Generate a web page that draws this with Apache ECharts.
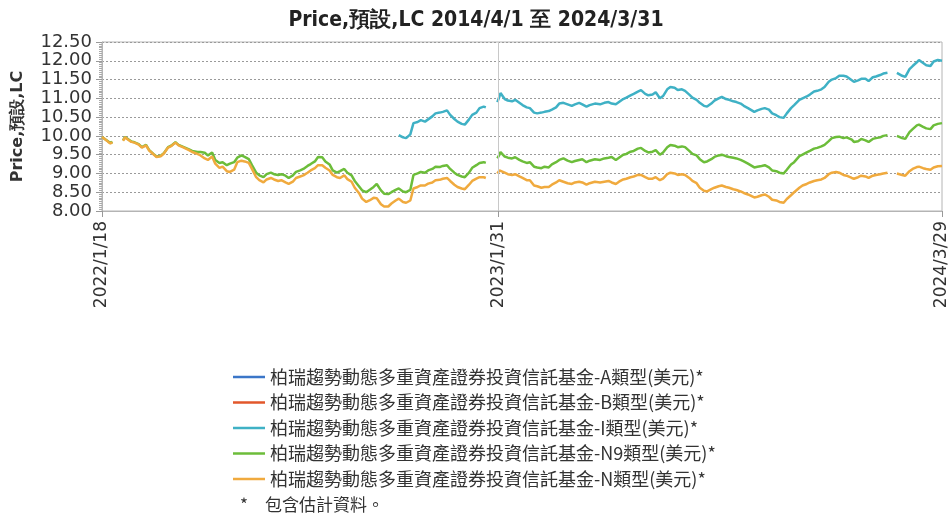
<!DOCTYPE html>
<html><head><meta charset="utf-8">
<script src="https://cdn.jsdelivr.net/npm/echarts@6/dist/echarts.min.js"></script>
<style>html,body{margin:0;padding:0;background:#fff}#c{width:952px;height:517px}</style>
</head><body><div id="c"></div>
<script>
const titleText = 'Price,預設,LC 2014/4/1 至 2024/3/31';
const yAxisName = 'Price,預設,LC';
const seriesNames = [
  '柏瑞趨勢動態多重資產證券投資信託基金-A類型(美元)*',
  '柏瑞趨勢動態多重資產證券投資信託基金-B類型(美元)*',
  '柏瑞趨勢動態多重資產證券投資信託基金-I類型(美元)*',
  '柏瑞趨勢動態多重資產證券投資信託基金-N9類型(美元)*',
  '柏瑞趨勢動態多重資產證券投資信託基金-N類型(美元)*'
];
const footnoteMark = '*';
const footnoteText = '包含估計資料。';
const xTickLabels = ['2022/1/18', '2023/1/31', '2024/3/29'];
const yTickMin = 8.0, yTickMax = 12.5, yTickStep = 0.5;

const dates = [
'2022-01-18','2022-01-20','2022-01-24','2022-01-26','2022-01-28','2022-02-01','2022-02-07','2022-02-09','2022-02-11','2022-02-15',
'2022-02-18','2022-02-22','2022-02-25','2022-03-01','2022-03-04','2022-03-08','2022-03-11','2022-03-15','2022-03-18','2022-03-22',
'2022-03-25','2022-03-29','2022-04-01','2022-04-06','2022-04-11','2022-04-14','2022-04-19','2022-04-22','2022-04-26','2022-04-29',
'2022-05-03','2022-05-06','2022-05-10','2022-05-13','2022-05-17','2022-05-20','2022-05-24','2022-05-27','2022-05-31','2022-06-03',
'2022-06-07','2022-06-10','2022-06-14','2022-06-17','2022-06-21','2022-06-24','2022-06-28','2022-07-01','2022-07-05','2022-07-08',
'2022-07-12','2022-07-15','2022-07-19','2022-07-22','2022-07-26','2022-07-29','2022-08-02','2022-08-05','2022-08-09','2022-08-12',
'2022-08-16','2022-08-19','2022-08-23','2022-08-26','2022-08-30','2022-09-02','2022-09-06','2022-09-09','2022-09-13','2022-09-16',
'2022-09-20','2022-09-23','2022-09-27','2022-09-30','2022-10-04','2022-10-07','2022-10-11','2022-10-14','2022-10-18','2022-10-21',
'2022-10-25','2022-10-28','2022-11-01','2022-11-04','2022-11-08','2022-11-11','2022-11-15','2022-11-18','2022-11-22','2022-11-25',
'2022-11-29','2022-12-02','2022-12-06','2022-12-09','2022-12-13','2022-12-16','2022-12-20','2022-12-23','2022-12-27','2022-12-30',
'2023-01-03','2023-01-06','2023-01-10','2023-01-13','2023-01-17','2023-01-19','2023-01-24','2023-01-30','2023-02-01','2023-02-02',
'2023-02-06','2023-02-09','2023-02-13','2023-02-16','2023-02-20','2023-02-23','2023-02-27','2023-03-02','2023-03-06','2023-03-09',
'2023-03-13','2023-03-16','2023-03-20','2023-03-23','2023-03-27','2023-03-30','2023-04-03','2023-04-07','2023-04-11','2023-04-14',
'2023-04-18','2023-04-21','2023-04-25','2023-04-28','2023-05-03','2023-05-08','2023-05-12','2023-05-16','2023-05-19','2023-05-23',
'2023-05-26','2023-05-30','2023-06-02','2023-06-06','2023-06-09','2023-06-13','2023-06-16','2023-06-20','2023-06-23','2023-06-27',
'2023-06-30','2023-07-04','2023-07-07','2023-07-11','2023-07-14','2023-07-18','2023-07-21','2023-07-25','2023-07-28','2023-08-01',
'2023-08-04','2023-08-08','2023-08-11','2023-08-15','2023-08-18','2023-08-22','2023-08-25','2023-08-29','2023-09-01','2023-09-05',
'2023-09-08','2023-09-12','2023-09-15','2023-09-19','2023-09-22','2023-09-26','2023-10-02','2023-10-05','2023-10-09','2023-10-12',
'2023-10-16','2023-10-19','2023-10-23','2023-10-26','2023-10-30','2023-11-02','2023-11-06','2023-11-09','2023-11-14','2023-11-17',
'2023-11-21','2023-11-24','2023-11-28','2023-12-01','2023-12-05','2023-12-08','2023-12-12','2023-12-15','2023-12-19','2023-12-22',
'2023-12-26','2023-12-29','2024-01-03','2024-01-05','2024-01-09','2024-01-12','2024-01-16','2024-01-19','2024-01-23','2024-01-26',
'2024-01-30','2024-02-02','2024-02-06','2024-02-09','2024-02-15','2024-02-20','2024-02-23','2024-02-27','2024-03-01','2024-03-05',
'2024-03-07','2024-03-11','2024-03-14','2024-03-18','2024-03-21','2024-03-25','2024-03-29'
];

const aValues = [];
const bValues = [];

const iValues = [
null,null,null,null,null,null,null,null,null,null,
null,null,null,null,null,null,null,null,null,null,
null,null,null,null,null,null,null,null,null,null,
null,null,null,null,null,null,null,null,null,null,
null,null,null,null,null,null,null,null,null,null,
null,null,null,null,null,null,null,null,null,null,
null,null,null,null,null,null,null,null,null,null,
null,null,null,null,null,null,null,null,null,null,
null,10.02,9.96,9.94,10.04,10.34,10.37,10.42,10.38,10.44,
10.52,10.60,10.62,10.64,10.68,10.56,10.45,10.38,10.32,10.30,
10.44,10.56,10.62,10.74,10.78,10.76,null,10.90,11.05,11.14,
10.98,10.94,10.92,10.96,10.88,10.82,10.76,10.74,10.62,10.60,
10.62,10.64,10.66,10.70,10.76,10.86,10.88,10.84,10.80,10.84,
10.88,10.84,10.78,10.82,10.86,10.84,10.88,10.90,10.86,10.84,
10.90,10.98,11.02,11.08,11.12,11.18,11.22,11.12,11.08,11.10,
11.16,11.00,11.06,11.24,11.30,11.28,11.22,11.24,11.20,11.10,
11.02,10.96,10.88,10.80,10.78,10.86,10.94,11.00,11.04,10.98,
10.96,10.92,10.90,10.86,10.80,10.74,10.64,10.68,10.72,10.74,
10.70,10.60,10.55,10.50,10.48,10.60,10.74,10.82,10.96,11.00,
11.05,11.10,11.18,11.20,11.24,11.30,11.44,11.50,11.54,11.60,
11.60,11.58,11.48,11.44,11.48,11.52,11.52,11.46,11.56,11.58,
11.62,11.66,11.68,null,11.68,11.60,11.57,11.78,11.86,11.96,
12.02,11.94,11.88,11.86,11.98,12.02,12.00
];

const n9Values = [
9.97,9.93,9.85,9.81,9.84,null,9.88,9.97,9.93,9.85,
9.83,9.78,9.70,9.76,9.62,9.52,9.45,9.47,9.54,9.70,
9.74,9.83,9.76,9.70,9.64,9.60,9.57,9.57,9.55,9.48,
9.56,9.36,9.28,9.30,9.22,9.26,9.30,9.42,9.48,9.44,
9.38,9.22,9.02,8.95,8.90,8.98,9.02,8.98,8.96,8.98,
8.94,8.88,8.95,9.04,9.08,9.12,9.20,9.25,9.32,9.44,
9.43,9.32,9.24,9.08,9.02,9.06,9.12,9.02,8.95,8.80,
8.66,8.55,8.50,8.56,8.64,8.72,8.55,8.46,8.45,8.50,
8.56,8.60,8.52,8.50,8.56,8.96,9.00,9.04,9.02,9.08,
9.12,9.18,9.17,9.20,9.22,9.12,9.02,8.96,8.92,8.90,
9.02,9.15,9.22,9.28,9.30,9.28,null,9.40,9.50,9.57,
9.45,9.42,9.40,9.43,9.36,9.32,9.28,9.30,9.18,9.16,
9.14,9.18,9.16,9.24,9.30,9.36,9.40,9.34,9.30,9.33,
9.36,9.38,9.30,9.34,9.38,9.36,9.40,9.42,9.44,9.36,
9.42,9.50,9.52,9.58,9.60,9.66,9.68,9.60,9.56,9.58,
9.62,9.50,9.56,9.70,9.76,9.74,9.70,9.72,9.70,9.60,
9.52,9.48,9.38,9.30,9.32,9.38,9.44,9.48,9.50,9.46,
9.44,9.42,9.40,9.36,9.32,9.26,9.16,9.18,9.20,9.22,
9.16,9.08,9.06,9.02,9.00,9.10,9.24,9.30,9.46,9.50,
9.56,9.60,9.66,9.68,9.72,9.76,9.86,9.94,9.97,9.98,
9.94,9.96,9.90,9.84,9.86,9.92,9.88,9.84,9.92,9.94,
9.96,10.00,10.02,null,10.00,9.94,9.92,10.10,10.18,10.28,
10.30,10.24,10.20,10.18,10.28,10.32,10.34
];

const nValues = [
9.97,9.93,9.84,9.80,9.83,null,9.87,9.96,9.92,9.84,
9.82,9.77,9.69,9.75,9.61,9.51,9.44,9.46,9.53,9.69,
9.73,9.82,9.75,9.69,9.62,9.57,9.52,9.48,9.40,9.36,
9.45,9.26,9.15,9.18,9.06,9.04,9.10,9.30,9.34,9.32,
9.28,9.12,8.90,8.82,8.76,8.84,8.88,8.84,8.80,8.82,
8.76,8.72,8.78,8.88,8.92,8.95,9.02,9.08,9.14,9.22,
9.22,9.15,9.08,8.96,8.90,8.88,8.95,8.85,8.78,8.62,
8.48,8.33,8.24,8.28,8.35,8.34,8.18,8.12,8.12,8.20,
8.28,8.33,8.24,8.22,8.28,8.60,8.64,8.68,8.68,8.73,
8.76,8.82,8.83,8.86,8.88,8.80,8.70,8.64,8.60,8.58,
8.70,8.80,8.86,8.90,8.90,8.88,null,9.00,9.08,9.12,
9.02,8.98,8.96,8.98,8.92,8.88,8.82,8.82,8.68,8.66,
8.62,8.64,8.64,8.70,8.76,8.82,8.78,8.74,8.72,8.76,
8.78,8.76,8.70,8.74,8.78,8.76,8.78,8.80,8.76,8.72,
8.78,8.84,8.86,8.90,8.92,8.96,8.96,8.90,8.86,8.86,
8.90,8.82,8.86,8.98,9.02,9.00,8.96,8.98,8.96,8.88,
8.80,8.74,8.62,8.54,8.52,8.58,8.62,8.66,8.68,8.64,
8.62,8.58,8.56,8.52,8.48,8.44,8.36,8.38,8.42,8.44,
8.38,8.30,8.28,8.24,8.22,8.32,8.42,8.50,8.62,8.68,
8.72,8.76,8.80,8.82,8.84,8.88,8.98,9.02,9.04,9.02,
8.96,8.94,8.88,8.86,8.90,8.94,8.92,8.88,8.94,8.96,
8.98,9.00,9.02,null,9.00,8.96,8.94,9.06,9.12,9.17,
9.18,9.14,9.12,9.10,9.16,9.19,9.20
];

const colors = ['#3b76c8', '#e2572b', '#3fb1c5', '#6cbd3a', '#f0aa3e'];

function toTime(s) {
  const p = s.split(/[-\/]/).map(Number);
  return new Date(p[0], p[1] - 1, p[2]).getTime();
}
function pairs(vals) {
  return vals.map((v, i) => [toTime(dates[i]), v == null ? '-' : v]);
}
const tickVals = xTickLabels.map(toTime);

const chart = echarts.init(document.getElementById('c'), null, {renderer: 'canvas'});
const allVals = [aValues, bValues, iValues, n9Values, nValues];
const series = seriesNames.map((name, k) => ({
  name: name,
  type: 'line',
  data: pairs(allVals[k]),
  symbol: 'none',
  showSymbol: false,
  connectNulls: false,
  lineStyle: {width: 2.5, color: colors[k]},
  itemStyle: {color: colors[k]},
  emphasis: {disabled: true},
  animation: false
}));
series[2].markLine = {
  silent: true, symbol: 'none', animation: false,
  label: {show: false},
  lineStyle: {type: 'solid', color: '#c8c8c8', width: 1},
  data: [{xAxis: tickVals[1]}]
};

chart.setOption({
  animation: false,
  color: colors,
  title: {
    text: titleText, left: 'center', top: 5,
    textStyle: {fontFamily: "'Liberation Sans Narrow','DejaVu Sans Condensed','Liberation Sans'", fontWeight: 'bold', fontSize: 21, color: '#222'}
  },
  grid: {left: 102, right: 10, top: 42, bottom: 306, show: true, borderColor: '#b4b4b4', borderWidth: 1},
  xAxis: {
    type: 'value',
    min: tickVals[0], max: tickVals[2],
    axisLine: {show: true, lineStyle: {color: '#b4b4b4'}},
    axisTick: {show: true, customValues: tickVals, length: 6, lineStyle: {color: '#999'}},
    axisLabel: {
      customValues: tickVals, rotate: 90, margin: 10,
      fontFamily: 'DejaVu Sans', fontSize: 17, color: '#333',
      formatter: function (v) { const d = new Date(v); return d.getFullYear() + '/' + (d.getMonth() + 1) + '/' + d.getDate(); },
      showMinLabel: true, showMaxLabel: true, hideOverlap: false
    },
    splitLine: {show: false}
  },
  yAxis: {
    type: 'value', min: yTickMin, max: yTickMax, interval: yTickStep,
    name: yAxisName, nameLocation: 'middle', nameGap: 76, nameRotate: 90,
    nameTextStyle: {fontFamily: 'DejaVu Sans', fontWeight: 'bold', fontSize: 16, color: '#333'},
    axisLine: {show: true, lineStyle: {color: '#b4b4b4'}},
    axisTick: {show: true, length: 6, lineStyle: {color: '#999'}},
    minorTick: {show: true, splitNumber: 10, length: 3, lineStyle: {color: '#aaa'}},
    axisLabel: {fontFamily: 'DejaVu Sans', fontSize: 18, color: '#333', margin: 10,
      formatter: v => v.toFixed(2)},
    splitLine: {show: true, lineStyle: {type: [2, 2], color: '#9a9a9a', width: 1}}
  },
  legend: {
    orient: 'vertical', left: 233, top: 368, padding: 0,
    icon: 'rect', itemWidth: 32, itemHeight: 2.5, itemGap: 7.5,
    textStyle: {fontFamily: 'Noto Sans CJK TC', fontSize: 18, lineHeight: 18, color: '#333'},
    data: seriesNames
  },
  graphic: [{
    type: 'text', left: 240, top: 496,
    style: {text: footnoteMark, font: '17px "Noto Sans CJK TC"', fill: '#333'}
  }, {
    type: 'text', left: 265, top: 496,
    style: {text: footnoteText, font: '17px "Noto Sans CJK TC"', fill: '#333'}
  }],
  series: series
});
</script></body></html>
